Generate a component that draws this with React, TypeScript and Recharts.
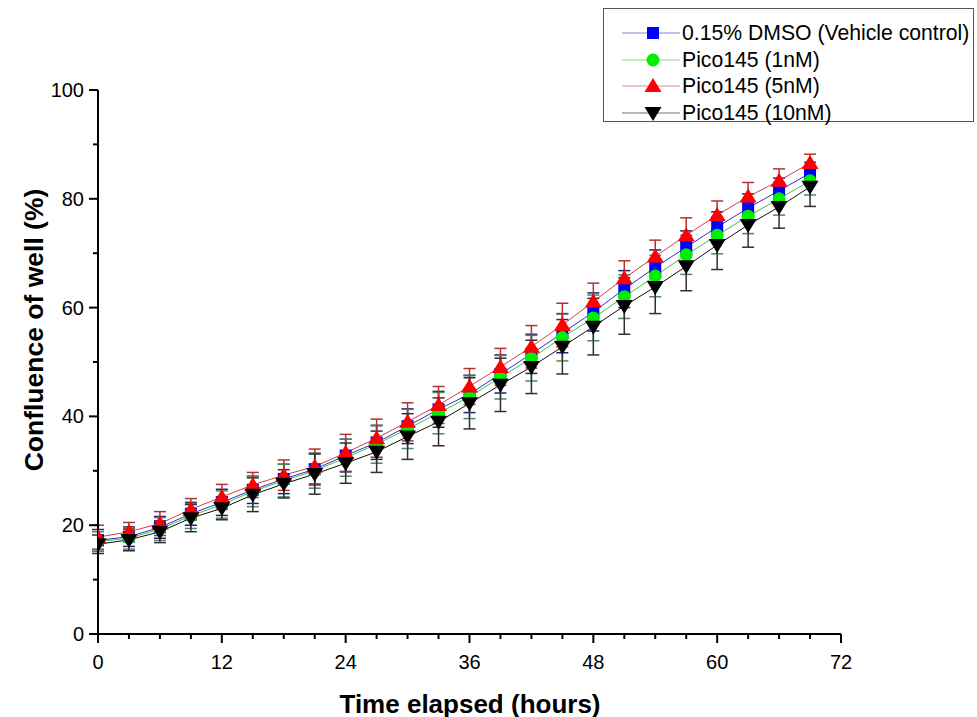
import React from 'react';
import { LineChart, Line, XAxis, YAxis, ErrorBar } from 'recharts';

const hours = [0, 3, 6, 9, 12, 15, 18, 21, 24, 27, 30, 33, 36, 39, 42, 45, 48, 51, 54, 57, 60, 63, 66, 69];

const dmso = [17.2, 17.9, 19.6, 22.1, 24.2, 26.5, 28.5, 30.3, 32.8, 35.2, 38.2, 41.3, 44.1, 47.8, 51.5, 55.3, 59.2, 63.4, 67.4, 71.1, 74.8, 78.3, 81.5, 84.7];
const dmsoErr = [2.0, 1.8, 2.0, 2.1, 2.4, 2.5, 2.7, 2.9, 3.0, 3.1, 3.2, 3.3, 3.4, 3.5, 3.6, 3.6, 3.5, 3.4, 3.2, 3.0, 2.8, 2.6, 2.3, 2.0];

const pico1 = [17.0, 17.6, 19.3, 21.7, 23.8, 26.2, 28.2, 30.0, 32.4, 34.9, 37.7, 40.6, 43.6, 47.2, 50.7, 54.5, 58.1, 62.0, 65.8, 69.7, 73.3, 76.8, 80.0, 83.3];
const pico1Err = [1.8, 2.0, 2.1, 2.3, 2.5, 2.8, 3.0, 3.2, 3.4, 3.5, 3.6, 3.8, 4.0, 4.0, 4.2, 4.3, 4.2, 4.0, 3.8, 3.6, 3.4, 3.2, 3.0, 2.6];

const pico5 = [17.8, 18.8, 20.3, 22.9, 25.2, 27.4, 29.2, 30.8, 33.3, 36.0, 39.0, 42.1, 45.5, 49.1, 52.8, 56.8, 61.1, 65.4, 69.4, 73.3, 77.0, 80.4, 83.3, 86.6];
const pico5Err = [2.2, 1.7, 2.2, 2.0, 2.3, 2.3, 2.8, 3.2, 3.4, 3.5, 3.5, 3.4, 3.3, 3.4, 3.9, 4.0, 3.4, 3.2, 3.0, 3.2, 2.6, 2.6, 2.2, 1.6];

const pico10 = [16.5, 17.3, 18.8, 21.3, 23.1, 25.6, 27.6, 29.4, 31.4, 33.5, 36.3, 39.0, 42.4, 45.8, 49.1, 52.8, 56.5, 60.3, 63.8, 67.6, 71.5, 75.2, 78.5, 82.2];
const pico10Err = [1.7, 2.0, 2.0, 2.5, 2.1, 3.1, 2.6, 3.7, 3.7, 3.8, 4.2, 4.4, 4.7, 4.9, 4.9, 5.0, 5.2, 5.2, 4.9, 4.5, 4.5, 4.1, 3.9, 3.6];

const xTicks = [0, 3, 6, 9, 12, 15, 18, 21, 24, 27, 30, 33, 36, 39, 42, 45, 48, 51, 54, 57, 60, 63, 66, 69, 72];
const xMajor = [0, 12, 24, 36, 48, 60, 72];
const yTicks = [0, 10, 20, 30, 40, 50, 60, 70, 80, 90, 100];
const yMajor = [0, 20, 40, 60, 80, 100];

const seriesNames = ['0.15% DMSO (Vehicle control)', 'Pico145 (1nM)', 'Pico145 (5nM)', 'Pico145 (10nM)'];

const FONT = "'Liberation Sans', Arial, sans-serif";

const data = hours.map((h, i) => ({
  h,
  dmso: dmso[i], dmsoErr: dmsoErr[i],
  pico1: pico1[i], pico1Err: pico1Err[i],
  pico5: pico5[i], pico5Err: pico5Err[i],
  pico10: pico10[i], pico10Err: pico10Err[i],
}));

type Shape = 'square' | 'circle' | 'up' | 'down';

const Marker = ({ cx, cy, shape, fill }: { cx: number; cy: number; shape: Shape; fill: string }) => {
  if (cx == null || cy == null) return null;
  if (shape === 'square') return <rect x={cx - 6} y={cy - 6} width={12} height={12} fill={fill} />;
  if (shape === 'circle') return <circle cx={cx} cy={cy} r={6.5} fill={fill} />;
  if (shape === 'up') return <polygon points={`${cx},${cy - 8} ${cx - 8.5},${cy + 6} ${cx + 8.5},${cy + 6}`} fill={fill} />;
  return <polygon points={`${cx},${cy + 8} ${cx - 8.5},${cy - 6} ${cx + 8.5},${cy - 6}`} fill={fill} />;
};

const makeDot = (shape: Shape, fill: string) => (props: any) => (
  <Marker key={`${shape}-${props.index}`} cx={props.cx} cy={props.cy} shape={shape} fill={fill} />
);

const series = [
  { key: 'dmso', err: 'dmsoErr', name: seriesNames[0], line: '#3030c8', fill: '#0000ff', errColor: '#202080', shape: 'square' as Shape },
  { key: 'pico1', err: 'pico1Err', name: seriesNames[1], line: '#40c040', fill: '#00ee00', errColor: '#4a8a60', shape: 'circle' as Shape },
  { key: 'pico5', err: 'pico5Err', name: seriesNames[2], line: '#d04040', fill: '#ff0000', errColor: '#b83030', shape: 'up' as Shape },
  { key: 'pico10', err: 'pico10Err', name: seriesNames[3], line: '#101010', fill: '#000000', errColor: '#303030', shape: 'down' as Shape },
];

const XTick = (props: any) => {
  const { x, y, payload } = props;
  const major = xMajor.includes(payload.value);
  return (
    <g>
      <line x1={x} y1={y} x2={x} y2={y + (major ? 9 : 5)} stroke="#000" strokeWidth={2} />
      {major && (
        <text x={x} y={y + 35} textAnchor="middle" fontSize={20} fontFamily={FONT} fill="#000">
          {payload.value}
        </text>
      )}
    </g>
  );
};

const YTick = (props: any) => {
  const { x, y, payload } = props;
  const major = yMajor.includes(payload.value);
  return (
    <g>
      <line x1={x - (major ? 9 : 5)} y1={y} x2={x} y2={y} stroke="#000" strokeWidth={2} />
      {major && (
        <text x={x - 14} y={y + 7} textAnchor="end" fontSize={20} fontFamily={FONT} fill="#000">
          {payload.value}
        </text>
      )}
    </g>
  );
};

const Legend = () => (
  <div
    style={{
      position: 'absolute',
      left: 603,
      top: 8,
      width: 371,
      height: 114,
      border: '1px solid #555',
      background: '#fff',
      boxSizing: 'border-box',
      fontFamily: FONT,
      fontSize: 21.2,
      color: '#000',
    }}
  >
    {series.map((s, i) => (
      <div key={s.key} style={{ position: 'absolute', left: 0, top: 11 + i * 26.7, height: 26, display: 'flex', alignItems: 'center' }}>
        <svg width={78} height={26} style={{ display: 'block' }}>
          <line x1={18} y1={13} x2={76} y2={13} stroke={s.line} strokeWidth={1} opacity={0.6} />
          <Marker cx={49} cy={13} shape={s.shape} fill={s.fill} />
        </svg>
        <span style={{ lineHeight: '26px', whiteSpace: 'nowrap' }}>{s.name}</span>
      </div>
    ))}
  </div>
);

export default function App() {
  return (
    <div style={{ position: 'absolute', left: 0, top: 0, width: 977, height: 717, background: '#fff' }}>
      <LineChart
        width={977}
        height={717}
        data={data}
        margin={{ top: 90, right: 136, bottom: 33, left: 38 }}
      >
        <XAxis
          dataKey="h"
          type="number"
          domain={[0, 72]}
          ticks={xTicks}
          interval={0}
          tickSize={0}
          tickMargin={0}
          tick={<XTick />}
          axisLine={{ stroke: '#000', strokeWidth: 2 }}
          tickLine={false}
          height={50}
          allowDataOverflow
        />
        <YAxis
          type="number"
          domain={[0, 100]}
          ticks={yTicks}
          interval={0}
          tickSize={0}
          tickMargin={0}
          tick={<YTick />}
          axisLine={{ stroke: '#000', strokeWidth: 2 }}
          tickLine={false}
          width={60}
          allowDataOverflow
        />
        {series.map((s) => (
          <Line
            key={s.key}
            dataKey={s.key}
            type="linear"
            stroke={s.line}
            strokeWidth={1}
            dot={makeDot(s.shape, s.fill)}
            activeDot={false}
            isAnimationActive={false}
          >
            <ErrorBar dataKey={s.err} width={6} stroke={s.errColor} strokeWidth={1.5} direction="y" />
          </Line>
        ))}
      </LineChart>
      <div
        style={{
          position: 'absolute',
          left: 34,
          top: 330,
          transform: 'translate(-50%, -50%) rotate(-90deg)',
          fontFamily: FONT,
          fontWeight: 'bold',
          fontSize: 26.5,
          whiteSpace: 'nowrap',
          color: '#000',
        }}
      >
        Confluence of well (%)
      </div>
      <div
        style={{
          position: 'absolute',
          left: 470,
          top: 704,
          transform: 'translate(-50%, -50%)',
          fontFamily: FONT,
          fontWeight: 'bold',
          fontSize: 26,
          whiteSpace: 'nowrap',
          color: '#000',
        }}
      >
        Time elapsed (hours)
      </div>
      <Legend />
    </div>
  );
}
